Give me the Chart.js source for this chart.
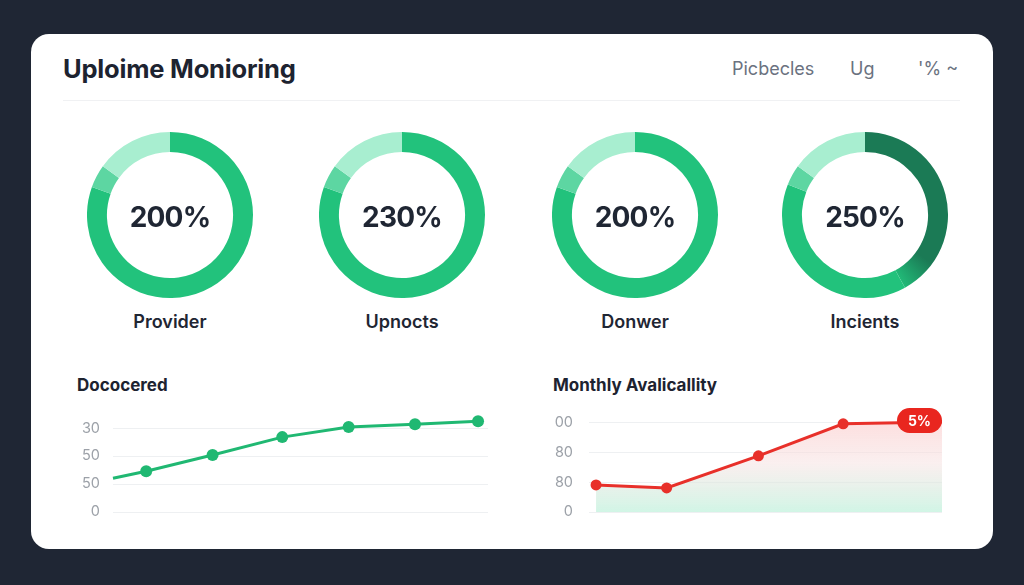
<!DOCTYPE html>
<html>
<head>
<meta charset="utf-8">
<script src="https://cdn.jsdelivr.net/npm/chart.js@4"></script>
<style>
  html, body { margin: 0; padding: 0; }
  body { width: 1024px; height: 585px; background: #1f2634; position: relative; overflow: hidden; font-family: 'Inter', sans-serif; }
  .card { position: absolute; left: 31px; top: 34px; width: 962px; height: 515px; background: #fff; border-radius: 18px; }
  .title { position: absolute; left: 63px; top: 53px; font-size: 25.5px; font-weight: 700; color: #1d2330; letter-spacing: -0.2px; }
  .nav { position: absolute; top: 58px; font-size: 18px; color: #6b7280; }
  .divider { position: absolute; left: 63px; top: 100px; width: 897px; height: 1px; background: #f0f1f3; }
  .donut { position: absolute; width: 166px; height: 166px; }
  .center { position: absolute; width: 166px; text-align: center; font-size: 28px; font-weight: 700; color: #1f2633; letter-spacing: -0.8px; }
  .dlabel { position: absolute; width: 200px; text-align: center; font-size: 18px; font-weight: 600; color: #1f2633; }
  .sub { position: absolute; font-size: 17px; font-weight: 700; color: #1d2330; }
  .line { position: absolute; }
</style>
</head>
<body>
<div class="card"></div>
<div class="title">Uploime Monioring</div>
<div class="nav" style="left:732px">Picbecles</div>
<div class="nav" style="left:850px">Ug</div>
<div class="nav" style="left:918px">'% ~</div>
<div class="divider"></div>

<div id="donuts"></div>

<div class="sub" style="left:77px; top:375px">Dococered</div>
<div class="sub" style="left:553px; top:375px">Monthly Avalicallity</div>
<div class="line" style="left:60px; top:400px; width:440px; height:130px"><canvas id="leftChart"></canvas></div>
<div class="line" style="left:530px; top:400px; width:430px; height:130px"><canvas id="rightChart"></canvas></div>

<script>
// ── Data ──
const donutNames = ['Provider', 'Upnocts', 'Donwer', 'Incients'];
const donutCenters = ['200%', '230%', '200%', '250%'];
const donutSegments = [
  [80.5, 4.5, 15],
  [80.5, 4.5, 15],
  [80.5, 4.5, 15],
  [42, 39, 4, 15]
];
const donutX = [170, 402, 635, 865];

const leftTicks = ['0', '50', '50', '30'];
const leftX = [0, 0.5, 1.5, 2.55, 3.55, 4.55, 5.5];
const leftY = [1.21, 1.46, 2.04, 2.68, 3.04, 3.14, 3.25];

const rightTicks = ['0', '80', '80', '00'];
const rightX = [0.1, 1.1, 2.4, 3.6, 5.0];
const rightY = [0.91, 0.81, 1.89, 2.97, 3.03];
const badgeText = '5%';

const green = '#22c27c';
const greenMid = '#5dd6a2';
const greenLight = '#a8eed0';
const greenDark = '#1b7a55';
const lineGreen = '#20b872';
const red = '#e8302a';
const gridColor = '#eef0f2';

Chart.defaults.font.family = "'Inter', sans-serif";
Chart.defaults.animation = false;

// ── Donuts ──
const host = document.getElementById('donuts');
donutSegments.forEach((seg, i) => {
  const cx = donutX[i], cy = 215;
  const wrap = document.createElement('div');
  wrap.className = 'donut';
  wrap.style.left = (cx - 83) + 'px';
  wrap.style.top = (cy - 83) + 'px';
  const cv = document.createElement('canvas');
  wrap.appendChild(cv);
  host.appendChild(wrap);

  const c = document.createElement('div');
  c.className = 'center';
  c.style.left = (cx - 83) + 'px';
  c.style.top = (cy - 15) + 'px';
  c.textContent = donutCenters[i];
  host.appendChild(c);

  const l = document.createElement('div');
  l.className = 'dlabel';
  l.style.left = (cx - 100) + 'px';
  l.style.top = '311px';
  l.textContent = donutNames[i];
  host.appendChild(l);

  const palette = seg.length === 4 ? [null, green, greenMid, greenLight] : [green, greenMid, greenLight];

  new Chart(cv, {
    type: 'doughnut',
    data: {
      labels: seg.map((_, k) => 'Part ' + (k + 1)),
      datasets: [{
        data: seg,
        backgroundColor: ctx => palette[ctx.dataIndex] || conicDark(ctx.chart),
        borderWidth: 0
      }]
    },
    options: {
      responsive: true,
      maintainAspectRatio: false,
      cutout: '76%',
      plugins: { legend: { display: false }, tooltip: { enabled: false } }
    }
  });
});

function conicDark(chart) {
  const a = chart.chartArea;
  if (!a) return greenDark;
  const g = chart.ctx.createConicGradient(-Math.PI / 2, (a.left + a.right) / 2, (a.top + a.bottom) / 2);
  g.addColorStop(0, greenDark);
  g.addColorStop(0.35, greenDark);
  g.addColorStop(0.43, green);
  g.addColorStop(1, green);
  return g;
}

// ── Line charts ──
function yScale(labels, max, width, pad) {
  return {
    min: 0, max: max,
    afterBuildTicks: s => { s.ticks = labels.map((_, v) => ({ value: v })); },
    afterFit: s => { s.width = width; s.paddingTop = 0; s.paddingBottom = 0; },
    grid: { color: gridColor, drawTicks: false },
    border: { display: false },
    ticks: { padding: pad, color: '#9ca1a8', font: { size: 14.5 }, callback: v => labels[v] }
  };
}

new Chart(document.getElementById('leftChart'), {
  type: 'line',
  data: {
    datasets: [{
      data: leftX.map((x, k) => ({ x: x, y: leftY[k] })),
      borderColor: lineGreen,
      backgroundColor: lineGreen,
      borderWidth: 3,
      pointRadius: leftY.map((_, k) => k === 0 ? 0 : 6),
      pointBorderWidth: 0,
      tension: 0,
      clip: false
    }]
  },
  options: {
    responsive: true,
    maintainAspectRatio: false,
    layout: { autoPadding: false, padding: { top: 17, bottom: 18, right: 12, left: 0 } },
    plugins: { legend: { display: false }, tooltip: { enabled: false } },
    scales: {
      x: { type: 'linear', min: 0, max: 5.65, display: false },
      y: yScale(leftTicks, 3.4, 53, 13)
    }
  }
});

const badgePlugin = {
  id: 'badge',
  afterDatasetsDraw(chart) {
    const pts = chart.getDatasetMeta(0).data;
    const p = pts[pts.length - 1];
    const ctx = chart.ctx;
    const w = 45, h = 25, r = 12.5;
    const x = p.x - w, y = p.y - 1.5 - h / 2;
    ctx.save();
    ctx.fillStyle = '#e9261f';
    ctx.beginPath();
    ctx.roundRect(x, y, w, h, r);
    ctx.fill();
    ctx.fillStyle = '#fff';
    ctx.font = "700 14px 'Inter', sans-serif";
    ctx.textAlign = 'center';
    ctx.textBaseline = 'middle';
    ctx.fillText(badgeText, x + w / 2, y + h / 2 + 1);
    ctx.restore();
  }
};

new Chart(document.getElementById('rightChart'), {
  type: 'line',
  data: {
    datasets: [{
      data: rightX.map((x, k) => ({ x: x, y: rightY[k] })),
      borderColor: red,
      pointBackgroundColor: red,
      borderWidth: 3,
      pointRadius: rightY.map((_, k) => k === rightY.length - 1 ? 0 : 5.5),
      pointBorderWidth: 0,
      tension: 0,
      clip: false,
      fill: 'origin',
      backgroundColor: ctx => {
        const a = ctx.chart.chartArea;
        if (!a) return 'rgba(254,205,205,0.5)';
        const g = ctx.chart.ctx.createLinearGradient(0, a.top, 0, a.bottom);
        g.addColorStop(0, 'rgba(253,200,200,0.65)');
        g.addColorStop(0.5, 'rgba(246,226,226,0.55)');
        g.addColorStop(1, 'rgba(185,240,216,0.65)');
        return g;
      }
    }]
  },
  options: {
    responsive: true,
    maintainAspectRatio: false,
    layout: { autoPadding: false, padding: { top: 14, bottom: 18, right: 18, left: 0 } },
    plugins: { legend: { display: false }, tooltip: { enabled: false } },
    scales: {
      x: { type: 'linear', min: 0, max: 5, display: false },
      y: yScale(rightTicks, 3.3, 59, 16)
    }
  },
  plugins: [badgePlugin]
});
</script>
</body>
</html>
